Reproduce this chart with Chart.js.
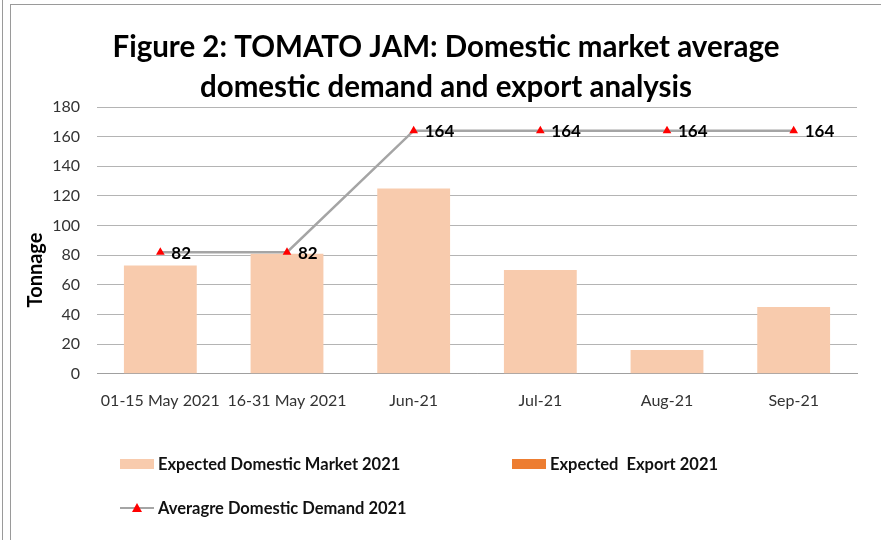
<!DOCTYPE html>
<html>
<head>
<meta charset="utf-8">
<script src="https://cdn.jsdelivr.net/npm/chart.js@4/dist/chart.umd.min.js"></script>
<style>
    html, body { margin: 0; padding: 0; background: #fff; }
    #wrap { position: relative; width: 881px; height: 540px; overflow: hidden; }
    #wrap canvas { position: absolute; left: 0; top: 0; }
    .edge { position: absolute; background: #9a9a9a; }
    #legend { position: absolute; left: 120px; top: 452px; width: 720px;
              font-family: Lato, "Open Sans", sans-serif; font-weight: bold; font-size: 16.5px; color: #111; }
    .item { position: absolute; display: flex; align-items: center; white-space: pre; height: 24px; }
    .swatch { width: 34px; height: 10px; margin-right: 4px; }
    .lineSwatch { position: relative; width: 34px; height: 10px; margin-right: 4px; }
    .lineSwatch i { position: absolute; left: 0; right: 0; top: 4px; height: 2px; background: #a5a5a5; }
    .lineSwatch b { position: absolute; left: 12px; top: 0; width: 0; height: 0;
                    border-left: 5px solid transparent; border-right: 5px solid transparent; border-bottom: 9px solid #ff0000; }
</style>
</head>
<body>
<div id="wrap">
    <canvas id="jamChart" width="881" height="540"></canvas>
    <div class="edge" style="left:2px; top:0; width:1px; height:540px;"></div>
    <div class="edge" style="left:10px; top:4px; width:1px; height:536px;"></div>
    <div class="edge" style="left:10px; top:4px; width:871px; height:1px;"></div>
    <div id="legend"></div>
</div>
<script>
// categories and series
const periods = ['01-15 May 2021', '16-31 May 2021', 'Jun-21', 'Jul-21', 'Aug-21', 'Sep-21'];
const domesticMarket = [73, 81, 125, 70, 16, 45];
const exportVolume = [null, null, null, null, null, null];
const avgDemand = [82, 82, 164, 164, 164, 164];
const yTicks = [0, 20, 40, 60, 80, 100, 120, 140, 160, 180];
const titleLines = ['Figure 2: TOMATO JAM: Domestic market average', 'domestic demand and export analysis'];
const yAxisTitle = 'Tonnage';

const FONT = 'Lato, "Open Sans", sans-serif';

// two-line heading plus the rotated y axis title
const heading = {
    id: 'heading',
    afterDraw(chart) {
        const ctx = chart.ctx;
        ctx.save();
        ctx.font = 'bold 29.5px ' + FONT;
        ctx.fillStyle = '#000';
        ctx.textAlign = 'center';
        ctx.textBaseline = 'middle';
        titleLines.forEach((line, i) => ctx.fillText(line, 446, 47 + i * 40));

        ctx.translate(36, 270);
        ctx.rotate(-Math.PI / 2);
        ctx.font = 'bold 20px ' + FONT;
        ctx.fillText(yAxisTitle, 0, 0);
        ctx.restore();
    }
};

// value labels next to the triangle markers
const pointLabels = {
    id: 'pointLabels',
    afterDatasetsDraw(chart) {
        const ctx = chart.ctx;
        chart.data.datasets.forEach((ds, i) => {
            if (ds.type !== 'line') return;
            const meta = chart.getDatasetMeta(i);
            ctx.save();
            ctx.font = 'bold 17px ' + FONT;
            ctx.fillStyle = '#000';
            ctx.textAlign = 'left';
            ctx.textBaseline = 'middle';
            meta.data.forEach((pt, j) => {
                ctx.fillText(String(ds.data[j]), pt.x + 11, pt.y + 1);
            });
            ctx.restore();
        });
    }
};

const chart = new Chart(document.getElementById('jamChart'), {
    data: {
        labels: periods,
        datasets: [
            {
                type: 'line',
                label: 'Averagre Domestic Demand 2021',
                data: avgDemand,
                borderColor: '#a5a5a5',
                borderWidth: 2.5,
                pointStyle: 'triangle',
                pointRadius: 5,
                pointBackgroundColor: '#ff0000',
                pointBorderColor: '#ff0000',
                pointBorderWidth: 0,
                tension: 0,
                order: 0
            },
            {
                type: 'bar',
                label: 'Expected Domestic Market 2021',
                data: domesticMarket,
                backgroundColor: '#f8cbad',
                grouped: false,
                categoryPercentage: 1,
                barPercentage: 0.575,
                order: 1
            },
            {
                type: 'bar',
                label: 'Expected  Export 2021',
                data: exportVolume,
                backgroundColor: '#ed7d31',
                grouped: false,
                categoryPercentage: 1,
                barPercentage: 0.575,
                order: 2
            }
        ]
    },
    options: {
        responsive: false,
        animation: false,
        layout: { padding: { left: 25, right: 24, top: 107, bottom: 121 } },
        plugins: {
            legend: { display: false },
            tooltip: { enabled: false },
            title: { display: false }
        },
        scales: {
            x: {
                grid: { display: false },
                border: { display: true, color: '#a0a0a0', width: 1 },
                ticks: { color: '#333', font: { family: FONT, size: 16 }, padding: 9, maxRotation: 0, autoSkip: false }
            },
            y: {
                min: 0,
                max: 180,
                afterBuildTicks(axis) { axis.ticks = yTicks.map(v => ({ value: v })); },
                afterFit(axis) { axis.width = 72; },
                grid: { color: '#b4b4b4', lineWidth: 1, drawTicks: false },
                border: { display: false },
                ticks: { color: '#333', font: { family: FONT, size: 16 }, padding: 17 }
            }
        }
    },
    plugins: [pointLabels, heading]
});

// legend built from the chart's datasets
const legendSpots = [
    { idx: 1, left: 0, top: 0 },
    { idx: 2, left: 392, top: 0 },
    { idx: 0, left: 0, top: 44 }
];
const legendEl = document.getElementById('legend');
legendSpots.forEach(spot => {
    const ds = chart.data.datasets[spot.idx];
    const item = document.createElement('div');
    item.className = 'item';
    item.style.left = spot.left + 'px';
    item.style.top = spot.top + 'px';
    if (ds.type === 'line') {
        item.innerHTML = '<span class="lineSwatch"><i></i><b></b></span>';
    } else {
        item.innerHTML = '<span class="swatch" style="background:' + ds.backgroundColor + '"></span>';
    }
    const txt = document.createElement('span');
    txt.textContent = ds.label;
    item.appendChild(txt);
    legendEl.appendChild(item);
});
</script>
</body>
</html>
